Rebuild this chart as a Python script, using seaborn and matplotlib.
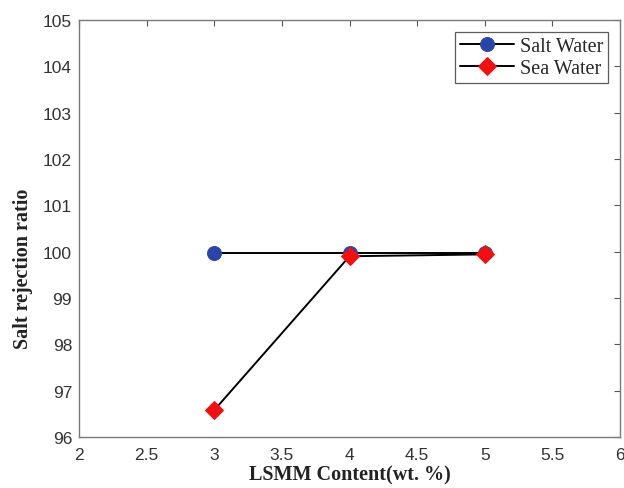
import matplotlib
matplotlib.use("Agg")
import matplotlib.pyplot as plt
import pandas as pd
import seaborn as sns

# data
lsmm_content = [3, 4, 5]
salt_water = [99.98, 99.98, 99.98]
sea_water = [96.58, 99.90, 99.94]

x_ticks = [2, 2.5, 3, 3.5, 4, 4.5, 5, 5.5, 6]
y_ticks = [96, 97, 98, 99, 100, 101, 102, 103, 104, 105]

sns.set_theme(style="white")
plt.rcParams["font.family"] = ["Liberation Sans", "DejaVu Sans"]

df = pd.DataFrame({"content": lsmm_content, "salt": salt_water, "sea": sea_water})

fig = plt.figure(figsize=(6.24, 4.89), dpi=100)
ax = fig.add_axes([0.1266, 0.1043, 0.867, 0.853])

sns.lineplot(data=df, x="content", y="salt", ax=ax, color="black", linewidth=1.4,
             marker="o", markersize=10, markerfacecolor="#2a45a8",
             markeredgecolor="#2a45a8", label="Salt Water")
sns.lineplot(data=df, x="content", y="sea", ax=ax, color="black", linewidth=1.4,
             marker="D", markersize=9, markerfacecolor="#f01010",
             markeredgecolor="#f01010", label="Sea Water")

ax.set_xlim(2, 6)
ax.set_ylim(96, 105)
ax.set_xticks(x_ticks)
ax.set_xticklabels([f"{t:g}" for t in x_ticks])
ax.set_yticks(y_ticks)
ax.tick_params(direction="in", top=True, right=True, length=4, width=0.8,
               colors="#555555", labelsize=12.5, labelcolor="#333333")
ax.tick_params(axis="x", pad=7)
ax.tick_params(axis="y", pad=5)
for s in ax.spines.values():
    s.set_color("#7a7a7a")
    s.set_linewidth(1.0)

ax.set_xlabel("LSMM Content(wt. %)", fontfamily="Liberation Serif",
              fontweight="bold", fontsize=14.5, color="#222222")
ax.set_ylabel("Salt rejection ratio", fontfamily="Liberation Serif",
              fontweight="bold", fontsize=14.5, color="#222222")
ax.xaxis.set_label_coords(0.5, -0.066)
ax.yaxis.set_label_coords(-0.085, 0.405)

leg = ax.legend(loc="upper right", prop={"family": "Liberation Serif", "size": 14.5},
                frameon=True, fancybox=False, edgecolor="#333333",
                borderaxespad=0.6, handlelength=2.7, borderpad=0.25,
                labelspacing=0.15, handletextpad=0.25)
leg.get_frame().set_linewidth(0.9)

fig.savefig("out.png", dpi=100)
